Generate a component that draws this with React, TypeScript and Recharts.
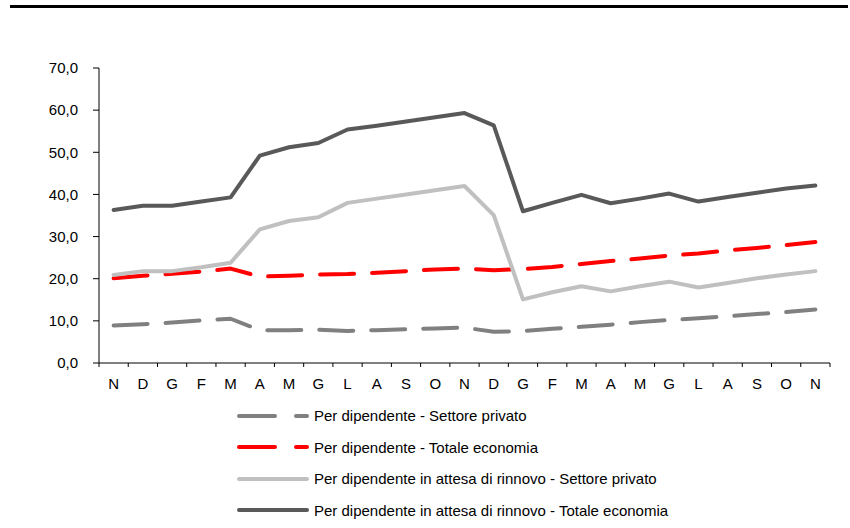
import { LineChart, Line, XAxis, YAxis, Legend } from "recharts";

const MONTHS = [
  "N", "D", "G", "F", "M", "A", "M", "G", "L", "A", "S", "O", "N",
  "D", "G", "F", "M", "A", "M", "G", "L", "A", "S", "O", "N",
];

const PRIVATO = [
  8.9, 9.2, 9.6, 10.1, 10.5, 7.8, 7.8, 7.9, 7.6, 7.8, 8.0, 8.2, 8.4,
  7.4, 7.6, 8.1, 8.6, 9.1, 9.7, 10.2, 10.6, 11.1, 11.6, 12.1, 12.7,
];
const TOTALE = [
  20.1, 20.7, 21.2, 21.7, 22.4, 20.5, 20.7, 21.0, 21.1, 21.4, 21.8, 22.2, 22.4,
  22.0, 22.3, 22.8, 23.5, 24.2, 24.8, 25.5, 26.0, 26.7, 27.3, 28.0, 28.7,
];
const ATTESA_PRIVATO = [
  20.9, 21.8, 21.8, 22.7, 23.8, 31.7, 33.7, 34.6, 38.0, 39.0, 40.0, 41.0, 42.0,
  35.1, 15.1, 16.8, 18.2, 17.0, 18.2, 19.3, 17.9, 19.0, 20.1, 21.0, 21.8,
];
const ATTESA_TOTALE = [
  36.3, 37.3, 37.3, 38.3, 39.3, 49.2, 51.2, 52.2, 55.4, 56.3, 57.3, 58.3, 59.3,
  56.4, 36.0, 38.0, 39.9, 37.9, 39.0, 40.2, 38.3, 39.4, 40.4, 41.4, 42.1,
];

const Y_TICKS = [0, 10, 20, 30, 40, 50, 60, 70];

const SERIES = [
  { key: "privato", name: "Per dipendente - Settore privato", color: "#808080", dash: true },
  { key: "totale", name: "Per dipendente - Totale economia", color: "#ff0000", dash: true },
  { key: "attesaPrivato", name: "Per dipendente in attesa di rinnovo - Settore privato", color: "#c0c0c0", dash: false },
  { key: "attesaTotale", name: "Per dipendente in attesa di rinnovo - Totale economia", color: "#595959", dash: false },
];

const data = MONTHS.map((m, i) => ({
  month: m,
  privato: PRIVATO[i],
  totale: TOTALE[i],
  attesaPrivato: ATTESA_PRIVATO[i],
  attesaTotale: ATTESA_TOTALE[i],
}));

const FONT = "'Liberation Sans', Arial, sans-serif";
// plot is 731px wide -> half a month slot on each side
const EDGE_PAD = 731 / (2 * MONTHS.length);

// category ticks sit between months, labels in the middle (Excel style)
function MonthTick(props: any) {
  const { x, y, payload, index } = props;
  const half = EDGE_PAD;
  return (
    <g>
      <line x1={x - half} x2={x - half} y1={y} y2={y + 4} stroke="#000" />
      {index === MONTHS.length - 1 && (
        <line x1={x + half} x2={x + half} y1={y} y2={y + 4} stroke="#000" />
      )}
      <text x={x} y={y + 25.5} textAnchor="middle" fontSize={15} fontFamily={FONT} fill="#000">
        {payload.value}
      </text>
    </g>
  );
}

function LegendBox() {
  return (
    <div style={{ fontFamily: FONT, fontSize: 15, color: "#000" }}>
      {SERIES.map((s) => (
        <div key={s.key} style={{ display: "flex", alignItems: "center", height: 31.5 }}>
          <svg width={72} height={10} style={{ marginRight: 5 }}>
            <line
              x1={2}
              x2={70}
              y1={5}
              y2={5}
              stroke={s.color}
              strokeWidth={4}
              strokeLinecap="round"
              strokeDasharray={s.dash ? "36 21" : undefined}
            />
          </svg>
          <span>{s.name}</span>
        </div>
      ))}
    </div>
  );
}

export default function App() {
  return (
    <div style={{ position: "fixed", left: 0, top: 0, width: 850, height: 528, background: "#fff" }}>
      <div style={{ position: "absolute", left: 10, top: 5, width: 838, height: 3, background: "#000" }} />
      <LineChart
        width={850}
        height={528}
        data={data}
        margin={{ top: 68, right: 20, left: 0, bottom: 135 }}
      >
        <XAxis
          dataKey="month"
          padding={{ left: EDGE_PAD, right: EDGE_PAD }}
          interval={0}
          height={30}
          stroke="#000"
          tickLine={false}
          tickSize={0}
          tickMargin={0}
          tick={<MonthTick />}
        />
        <YAxis
          domain={[0, 70]}
          ticks={Y_TICKS}
          width={99}
          stroke="#000"
          tickSize={6}
          tickMargin={15}
          tick={{ fontSize: 15, fontFamily: FONT, fill: "#000" }}
          tickFormatter={(v: number) => v.toFixed(1).replace(".", ",")}
        />
        {SERIES.map((s) => (
          <Line
            key={s.key}
            dataKey={s.key}
            name={s.name}
            stroke={s.color}
            strokeWidth={4}
            strokeLinecap="round"
            strokeLinejoin="round"
            strokeDasharray={s.dash ? "34 18" : undefined}
            dot={false}
            activeDot={false}
            isAnimationActive={false}
          />
        ))}
        <Legend
          layout="horizontal"
          verticalAlign="middle"
          align="center"
          content={() => <LegendBox />}
          wrapperStyle={{ top: 400, left: 237, width: "auto" }}
        />
      </LineChart>
    </div>
  );
}
